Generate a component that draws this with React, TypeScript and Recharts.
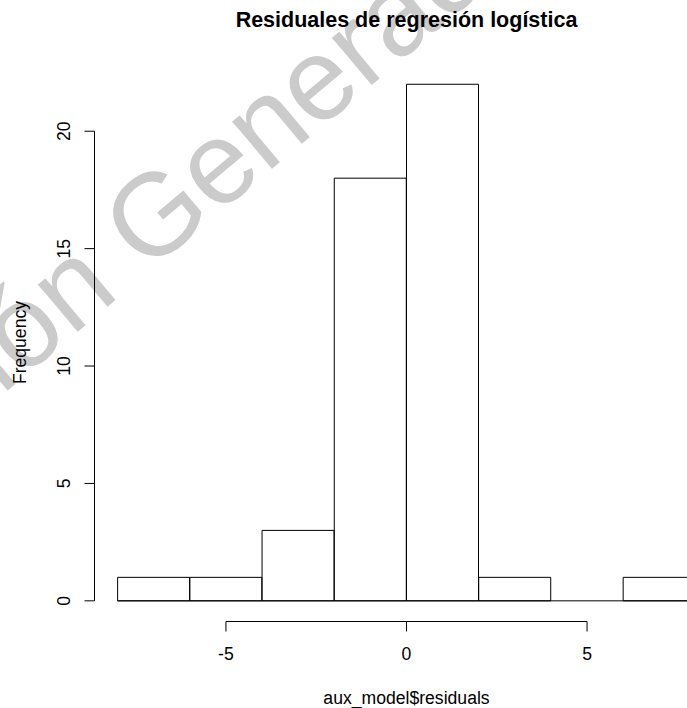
import { ComposedChart, Bar, XAxis, YAxis, ReferenceLine } from 'recharts';

// histogram bins
const binStarts = [-8, -6, -4, -2, 0, 2, 4, 6];
const binEnds = [-6, -4, -2, 0, 2, 4, 6, 8];
const counts = [1, 1, 3, 18, 22, 1, 0, 1];

const xTicks = [-5, 0, 5];
const yTicks = [0, 5, 10, 15, 20];

const title = 'Residuales de regresión logística';
const xLabel = 'aux_model$residuals';
const yLabel = 'Frequency';
const watermark = 'ación Generada';

const FONT = '"Liberation Sans", Arial, Helvetica, sans-serif';
const BASE = 17.6;

const data = binStarts.map((s, i) => ({
  mid: (s + binEnds[i]) / 2,
  count: counts[i],
}));

// R extends the axes by 4% on each side
const xMin = binStarts[0];
const xMax = binEnds[binEnds.length - 1];
const yMax = Math.max(...counts);
const xPad = (xMax - xMin) * 0.04;
const yPad = yMax * 0.04;
const xDomain: [number, number] = [xMin - xPad, xMax + xPad];
const yDomain: [number, number] = [0 - yPad, yMax + yPad];

const YTick = (props: any) => {
  const { x, y, payload } = props;
  return (
    <text
      x={x}
      y={y}
      dy="0.36em"
      textAnchor="middle"
      transform={`rotate(-90 ${x} ${y})`}
      fontSize={BASE}
      fill="#000"
    >
      {payload.value}
    </text>
  );
};

const XTitle = (props: any) => {
  const vb = props.viewBox || {};
  return (
    <text x={vb.x + vb.width / 2} y={703.5} textAnchor="middle" fontSize={BASE} fill="#000">
      {xLabel}
    </text>
  );
};

const YTitle = (props: any) => {
  const vb = props.viewBox || {};
  const cy = vb.y + vb.height / 2;
  return (
    <text
      x={19.5}
      y={cy}
      dy="0.36em"
      textAnchor="middle"
      transform={`rotate(-90 19.5 ${cy})`}
      fontSize={BASE}
      fill="#000"
    >
      {yLabel}
    </text>
  );
};

export default function App() {
  return (
    <div
      style={{
        position: 'absolute',
        left: 0,
        top: 0,
        width: 687,
        height: 708,
        overflow: 'hidden',
        background: '#fff',
        fontFamily: FONT,
      }}
    >
      <svg width={687} height={708} style={{ position: 'absolute', left: 0, top: 0 }}>
        <text
          x={-93}
          y={475}
          transform="rotate(-40 -93 475)"
          fontSize={117}
          fill="#cbcbcb"
        >
          {watermark}
        </text>
        <text x={406.5} y={26.7} textAnchor="middle" fontWeight="bold" fontSize={21.5} fill="#000">
          {title}
        </text>
      </svg>
      <div style={{ position: 'absolute', left: 0, top: 0 }}>
        <ComposedChart
          width={730}
          height={708}
          data={data}
          margin={{ top: 63.6, right: 11.5, bottom: 0, left: 0 }}
          barCategoryGap={0}
          barGap={0}
        >
          <XAxis
            type="number"
            dataKey="mid"
            domain={xDomain}
            allowDataOverflow
            ticks={xTicks}
            interval={0}
            axisLine={false}
            tickLine={{ stroke: '#000' }}
            tickSize={10}
            tickMargin={16}
            height={86.5}
            tick={{ fill: '#000', fontSize: BASE }}
            label={XTitle}
          />
          <YAxis
            type="number"
            domain={yDomain}
            allowDataOverflow
            ticks={yTicks}
            interval={0}
            width={94.5}
            axisLine={false}
            tickLine={{ stroke: '#000' }}
            tickSize={10}
            tickMargin={21}
            tick={<YTick />}
            label={YTitle}
          />
          {/* R draws axis lines only between first and last tick */}
          <ReferenceLine
            segment={[
              { x: xTicks[0], y: yDomain[0] },
              { x: xTicks[xTicks.length - 1], y: yDomain[0] },
            ]}
            stroke="#000"
            ifOverflow="visible"
          />
          <ReferenceLine
            segment={[
              { x: xDomain[0], y: yTicks[0] },
              { x: xDomain[0], y: yTicks[yTicks.length - 1] },
            ]}
            stroke="#000"
            ifOverflow="visible"
          />
          {/* bottom edge of all bins, incl. empty ones */}
          <ReferenceLine
            segment={[
              { x: xMin, y: 0 },
              { x: xMax, y: 0 },
            ]}
            stroke="#000"
            ifOverflow="visible"
          />
          <Bar dataKey="count" fill="none" stroke="#000" strokeWidth={1} isAnimationActive={false} />
        </ComposedChart>
      </div>
    </div>
  );
}
